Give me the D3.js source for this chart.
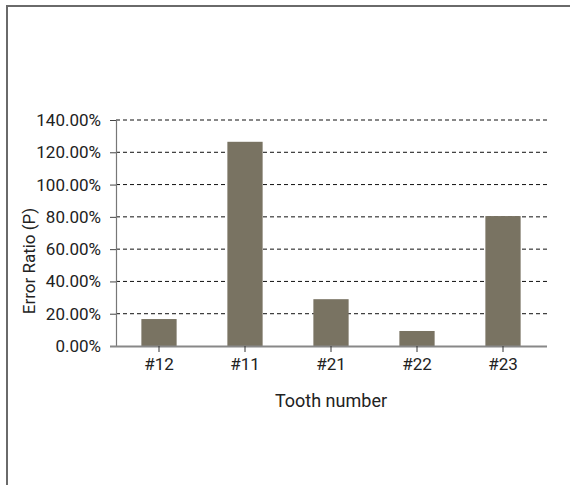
<!DOCTYPE html>
<html>
<head>
<meta charset="utf-8">
<script src="https://cdn.jsdelivr.net/npm/d3@7"></script>
<style>
  body { margin: 0; background: #fff; }
  text { font-family: "Liberation Sans Narrow", "Roboto", sans-serif; fill: #222; }
</style>
</head>
<body>
<div id="chart"></div>
<script>
(function () {
  // data
  const teeth = ["#12", "#11", "#21", "#22", "#23"];
  const errorRatio = [16.7, 126.5, 29.0, 9.3, 80.5];
  const yTicks = [0, 20, 40, 60, 80, 100, 120, 140];

  const width = 570, height = 485;

  const svg = d3.select("#chart").append("svg")
    .attr("width", width)
    .attr("height", height);

  // outer frame (top and left edges only)
  svg.append("path")
    .attr("d", "M 7," + height + " L 7,6 L " + width + ",6")
    .attr("fill", "none")
    .attr("stroke", "#6a6a6a")
    .attr("stroke-width", 2);

  const x = d3.scaleBand()
    .domain(teeth)
    .range([116, 546])
    .paddingInner(0.59)
    .paddingOuter(0.295);

  const y = d3.scaleLinear()
    .domain([0, 140])
    .range([346, 120]);

  // dashed gridlines
  svg.append("g")
    .selectAll("line")
    .data(yTicks.filter(d => d > 0))
    .join("line")
    .attr("x1", 116)
    .attr("x2", 547)
    .attr("y1", d => y(d))
    .attr("y2", d => y(d))
    .attr("stroke", "#111")
    .attr("stroke-width", 1)
    .attr("stroke-dasharray", "4,3");

  // bars
  svg.append("g")
    .selectAll("rect")
    .data(teeth)
    .join("rect")
    .attr("x", d => x(d))
    .attr("width", x.bandwidth())
    .attr("y", (d, i) => y(errorRatio[i]))
    .attr("height", (d, i) => y(0) - y(errorRatio[i]))
    .attr("fill", "#797362");

  // y axis
  const yAxis = svg.append("g")
    .attr("transform", "translate(116,0)")
    .call(d3.axisLeft(y).tickValues(yTicks).tickSize(6).tickPadding(9)
      .tickFormat(d => d.toFixed(2) + "%"));
  yAxis.select(".domain").attr("stroke", "#777").attr("stroke-width", 1.2);
  yAxis.selectAll(".tick line").attr("stroke", "#444");
  yAxis.selectAll("text")
    .attr("font-size", 17)
    .attr("font-family", null)
    .attr("fill", "#222");

  // x axis
  const xAxis = svg.append("g")
    .attr("transform", "translate(0,346)")
    .call(d3.axisBottom(x).tickSize(6).tickPadding(6).tickSizeOuter(0));
  xAxis.select(".domain")
    .attr("d", "M110,0.5H547")
    .attr("stroke", "#888")
    .attr("stroke-width", 2);
  xAxis.selectAll(".tick line").attr("stroke", "#333");
  xAxis.selectAll("text")
    .attr("font-size", 17)
    .attr("font-family", null)
    .attr("fill", "#222");

  // axis titles
  svg.append("text")
    .attr("x", 331)
    .attr("y", 407)
    .attr("text-anchor", "middle")
    .attr("font-size", 18)
    .text("Tooth number");

  svg.append("text")
    .attr("transform", "translate(35,261) rotate(-90)")
    .attr("text-anchor", "middle")
    .attr("font-size", 17)
    .text("Error Ratio (P)");
})();
</script>
</body>
</html>
